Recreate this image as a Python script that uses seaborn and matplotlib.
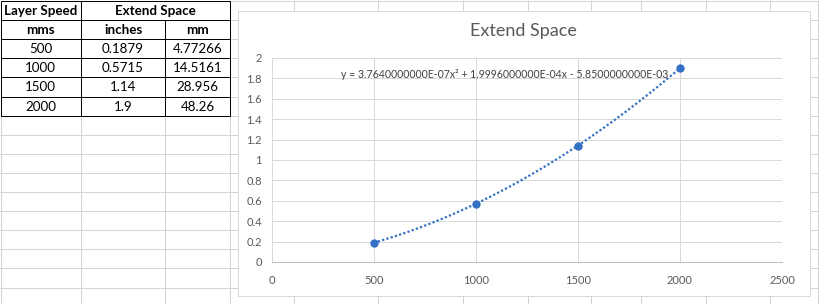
import numpy as np
import matplotlib
matplotlib.use("Agg")
import matplotlib.pyplot as plt
import seaborn as sns
from matplotlib.patches import Rectangle

# ---- data ----
speed_mms = [500, 1000, 1500, 2000]
extend_in = [0.1879, 0.5715, 1.14, 1.9]
extend_mm = [4.77266, 14.5161, 28.956, 48.26]
speed_lbl = ["500", "1000", "1500", "2000"]
in_lbl = ["0.1879", "0.5715", "1.14", "1.9"]
mm_lbl = ["4.77266", "14.5161", "28.956", "48.26"]
header1 = ["Layer Speed", "Extend Space"]
header2 = ["mms", "inches", "mm"]
chart_title = "Extend Space"
equation = "y = 3.7640000000E-07x\u00b2 + 1.9996000000E-04x - 5.8500000000E-03"
x_ticks = [0, 500, 1000, 1500, 2000, 2500]
x_tick_lbl = ["0", "500", "1000", "1500", "2000", "2500"]
y_ticks = [0, 0.2, 0.4, 0.6, 0.8, 1.0, 1.2, 1.4, 1.6, 1.8, 2.0]
y_tick_lbl = ["0", "0.2", "0.4", "0.6", "0.8", "1", "1.2", "1.4", "1.6", "1.8", "2"]

sns.set_theme(style="white")
plt.rcParams["font.family"] = ["Lato", "DejaVu Sans"]

W, H = 819, 304
fig = plt.figure(figsize=(W / 100, H / 100), dpi=100)
fig.patch.set_facecolor("white")

# background "spreadsheet" layer in pixel coords
bg = fig.add_axes([0, 0, 1, 1], zorder=0)
bg.set_xlim(0, W)
bg.set_ylim(H, 0)
bg.axis("off")

PX = 0.72  # 1 px in points
grid_c = "#D4D4D4"
cols = [0.5, 80.7, 165.3, 229.7, 293.5, 378, 463, 527.5, 591, 641, 705.6, 769.5, 818]
rows = [1.0 + 19.1 * k for k in range(16)]
bg.vlines(cols, 0, H, color=grid_c, lw=PX, zorder=1)
bg.hlines(rows, 0, W, color=grid_c, lw=PX, zorder=1)

# table
tx0, tx1 = cols[0], cols[3]
bg.add_patch(Rectangle((tx0, rows[0]), tx1 - tx0, rows[6] - rows[0],
                       facecolor="white", edgecolor="none", zorder=2))
bg.hlines(rows[:7], tx0, tx1, color="black", lw=PX, zorder=3)
bg.vlines([cols[0], cols[1], cols[3]], rows[0], rows[6], color="black", lw=PX, zorder=3)
bg.vlines([cols[2]], rows[1], rows[6], color="black", lw=PX, zorder=3)

tfs = 9.6
def cell_text(col_l, col_r, r, s, bold=False):
    bg.text((col_l + col_r) / 2, (rows[r] + rows[r + 1]) / 2 + 0.5, s,
            ha="center", va="center", fontsize=tfs, color="black",
            fontweight="bold" if bold else "normal", zorder=4)

cell_text(cols[0], cols[1], 0, header1[0], True)
cell_text(cols[1], cols[3], 0, header1[1], True)
for j, s in enumerate(header2):
    cell_text(cols[j], cols[j + 1], 1, s, True)
for i in range(len(speed_lbl)):
    cell_text(cols[0], cols[1], 2 + i, speed_lbl[i])
    cell_text(cols[1], cols[2], 2 + i, in_lbl[i])
    cell_text(cols[2], cols[3], 2 + i, mm_lbl[i])

# chart area box
bg.add_patch(Rectangle((237.5, 10.5), 572, 285, facecolor="white",
                       edgecolor="#D9D9D9", lw=PX, zorder=5))
bg.text(523, 31, chart_title, ha="center", va="center", fontsize=13,
        color="#595959", zorder=6)

# plot axes
x0, x1, y0, y1 = 271.5, 782, 262, 58
ax = fig.add_axes([x0 / W, 1 - y0 / H, (x1 - x0) / W, (y0 - y1) / H], zorder=2)
ax.set_facecolor("none")

blue = "#3470C4"
sns.regplot(x=speed_mms, y=extend_in, order=2, ci=None, truncate=True, ax=ax,
            scatter_kws=dict(s=36, color=blue, linewidths=0, zorder=4, alpha=1),
            line_kws=dict(color=blue, lw=1.6, ls=(0, (1, 1)), zorder=3))

ax.set_xlim(0, 2500)
ax.set_ylim(0, 2)
ax.set_xticks(x_ticks)
ax.set_xticklabels(x_tick_lbl)
ax.set_yticks(y_ticks)
ax.set_yticklabels(y_tick_lbl)
ax.set_xlabel("")
ax.set_ylabel("")
ax.grid(True, color="#D9D9D9", lw=PX)
ax.set_axisbelow(True)
for side in ["top", "right", "left"]:
    ax.spines[side].set_visible(False)
ax.spines["bottom"].set_color("#BFBFBF")
ax.spines["bottom"].set_linewidth(PX)
ax.tick_params(axis="both", length=0, labelsize=8, labelcolor="#595959")
ax.tick_params(axis="x", pad=9)
ax.tick_params(axis="y", pad=7)

ax.text(341, 74, equation, transform=bg.transData, ha="left", va="center",
        fontsize=7.6, color="#404040", zorder=10, clip_on=False)

fig.savefig("out.png", dpi=100, facecolor="white")
